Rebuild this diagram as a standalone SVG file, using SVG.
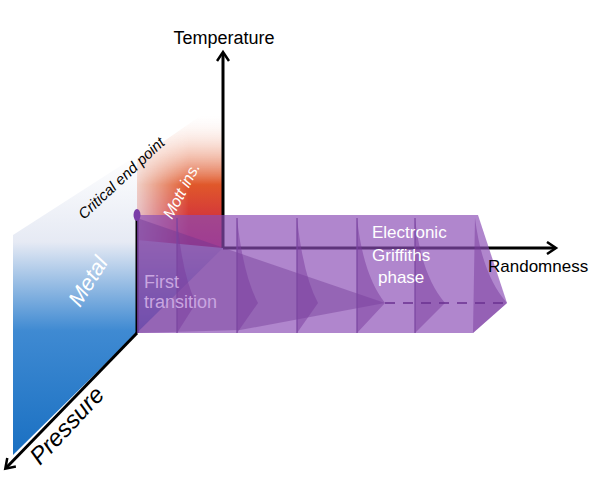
<svg xmlns="http://www.w3.org/2000/svg" width="600" height="500" viewBox="0 0 600 500">
<style>
.ax{stroke:#000;stroke-width:3;fill:none}
.t{font-family:"Liberation Sans",Arial,sans-serif}
.fin{fill:#7a3c9e;fill-opacity:0.5}
.sl{stroke:#7a44a0;stroke-width:2;stroke-opacity:0.6}
</style>
<defs>
<linearGradient id="blue" x1="0" y1="455" x2="0" y2="100" gradientUnits="userSpaceOnUse">
<stop offset="0" stop-color="#1a70c2"/><stop offset="0.35" stop-color="#3f8ad2"/><stop offset="0.6" stop-color="#e6eaf4"/><stop offset="0.85" stop-color="#ffffff"/>
</linearGradient>
<linearGradient id="red" x1="0" y1="250" x2="0" y2="105" gradientUnits="userSpaceOnUse">
<stop offset="0" stop-color="#c8174a"/><stop offset="0.45" stop-color="#e0582a"/><stop offset="0.95" stop-color="#fff" stop-opacity="0"/>
</linearGradient>
<linearGradient id="redx" x1="137" y1="0" x2="223" y2="0" gradientUnits="userSpaceOnUse">
<stop offset="0" stop-color="#fff" stop-opacity="0.25"/><stop offset="0.6" stop-color="#fff" stop-opacity="1"/>
</linearGradient>
<mask id="m"><rect x="130" y="90" width="100" height="170" fill="url(#redx)"/></mask>
<marker id="ah" markerWidth="14" markerHeight="14" refX="9" refY="7" orient="auto" markerUnits="userSpaceOnUse">
<path d="M1,1 L10,7 L1,13" fill="none" stroke="#000" stroke-width="2.5"/>
</marker>
</defs>
<g id="planes">
<polygon points="13,235 223,100 223,248 13,455" fill="url(#blue)"/>
<polygon points="137,160 223,100 223,248 137,240" fill="url(#red)" mask="url(#m)"/>
</g>
<g id="connectors">
<line class="ax" x1="223" y1="248" x2="223" y2="53" marker-end="url(#ah)"/>
<line class="ax" x1="223" y1="248" x2="555" y2="248" marker-end="url(#ah)"/>
<line class="ax" x1="137" y1="333" x2="6" y2="468" marker-end="url(#ah)"/>
<line class="ax" x1="137" y1="215" x2="137" y2="333" stroke-width="2.5"/>
</g>
<g id="griffiths">
<polygon points="137,215 478,215 507,303 473,333 137,333" fill="#8a4db5" fill-opacity="0.68"/>
<polygon points="137,218 230,250 385,303 240,330 137,333" fill="#6e3590" fill-opacity="0.4"/>
<path class="fin" d="M177,218 Q182,275 196,303 L177,333 Z"/>
<path class="fin" d="M237,218 Q243,275 258,303 L237,333 Z"/>
<path class="fin" d="M297,218 Q303,275 318,303 L297,333 Z"/>
<path class="fin" d="M357,218 Q363,275 385,303 L357,333 Z"/>
<path class="fin" d="M415,218 Q421,275 445,303 L415,333 Z"/>
<path class="fin" d="M475,218 Q482,275 507,303 L473,333 Z"/>
<g class="sl"><line x1="177" y1="218" x2="177" y2="333"/><line x1="237" y1="218" x2="237" y2="333"/><line x1="297" y1="218" x2="297" y2="333"/><line x1="357" y1="218" x2="357" y2="333"/><line x1="415" y1="218" x2="415" y2="333"/></g>
<line x1="385" y1="303" x2="505" y2="303" stroke="#6a3090" stroke-width="1.5" stroke-dasharray="10,8"/>
<text class="t" x="372" y="238" font-size="17" fill="#fff">Electronic</text>
<text class="t" x="372" y="261" font-size="17" fill="#fff">Griffiths</text>
<text class="t" x="378" y="283" font-size="17" fill="#fff">phase</text>
<text class="t" x="144" y="288" font-size="18" fill="#c9a6e0">First</text>
<text class="t" x="144" y="308" font-size="18" fill="#c9a6e0">transition</text>
</g>
<g id="labels">
<ellipse cx="137" cy="215" rx="3.5" ry="6" fill="#7a3ca8"/>
<text class="t" x="224" y="44" font-size="18" text-anchor="middle">Temperature</text>
<text class="t" x="488" y="272" font-size="17">Randomness</text>
<text class="t" font-size="24" font-style="italic" transform="translate(40,466) rotate(-47)">Pressure</text>
<text class="t" font-size="22" font-style="italic" fill="#fff" transform="translate(80,308) rotate(-58)">Metal</text>
<text class="t" font-size="16" font-style="italic" fill="#fff" transform="translate(172,220) rotate(-62)">Mott ins.</text>
<text class="t" font-size="15" font-style="italic" transform="translate(84,220) rotate(-43)">Critical end point</text>
</g>
</svg>
